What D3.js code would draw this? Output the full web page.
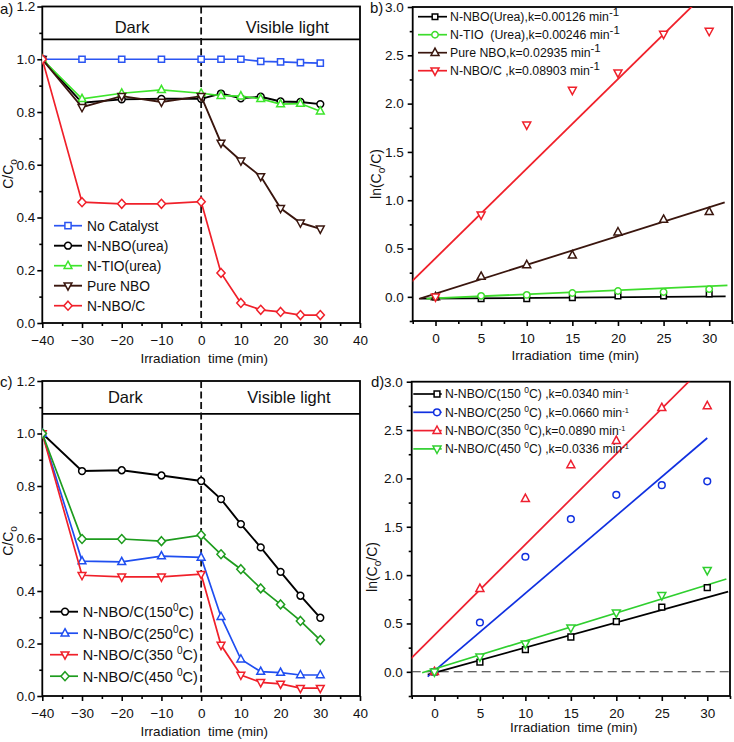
<!DOCTYPE html>
<html><head><meta charset="utf-8">
<script src="https://cdn.jsdelivr.net/npm/d3@7"></script>
<style>
body{margin:0;background:#fff;}
svg{display:block;font-family:"Liberation Sans",Arial,sans-serif;}
text{white-space:pre;}
</style></head>
<body>
<svg id="chart" width="734" height="742"></svg>
<script>
// ---------- DATA ----------
const timeAC = [-40, -30, -20, -10, 0, 5, 10, 15, 20, 25, 30];
const timeBD = [0, 5, 10, 15, 20, 25, 30];

// panel a : C/C0
const aNoCatalyst = [1.0, 1.0, 1.0, 1.0, 1.0, 1.0, 1.0, 0.992, 0.99, 0.987, 0.985];
const aNNBOurea   = [1.0, 0.835, 0.848, 0.85, 0.85, 0.87, 0.852, 0.858, 0.84, 0.838, 0.83];
const aNTIOurea   = [1.0, 0.85, 0.871, 0.884, 0.871, 0.862, 0.86, 0.85, 0.83, 0.832, 0.803];
const aPureNBO    = [1.0, 0.818, 0.86, 0.838, 0.86, 0.683, 0.615, 0.556, 0.435, 0.38, 0.357];
const aNNBOC      = [1.0, 0.458, 0.452, 0.452, 0.46, 0.19, 0.076, 0.05, 0.042, 0.03, 0.03];
const aLabels = ["No Catalyst", "N-NBO(urea)", "N-TIO(urea)", "Pure NBO", "N-NBO/C"];

// panel b : ln(C0/C)
const bNNBO  = [0, -0.02, -0.02, -0.01, 0.01, 0.01, 0.03];
const bNTIO  = [0, 0.01, 0.02, 0.04, 0.06, 0.05, 0.08];
const bPure  = [0, 0.21, 0.33, 0.43, 0.67, 0.80, 0.88];
const bNNBOC = [0, 0.85, 1.78, 2.14, 2.32, 2.72, 2.75];
const bLabels = ["N-NBO(Urea),k=0.00126 min", "N-TIO  (Urea),k=0.00246 min", "Pure NBO,k=0.02935 min", "N-NBO/C ,k=0.08903 min"];
const bFitSlope     = [0.0007, 0.0042, 0.0298, 0.0927];
const bFitIntercept = [-0.018, -0.015, 0.033, 0.40];
const bFitFrom      = [-1.65, -1.0, -1.8, -3.0];
const bFitTo        = [31.8, 32.0, 31.7, 30.0];

// panel c : C/C0
const c150 = [1.0, 0.857, 0.86, 0.84, 0.819, 0.75, 0.655, 0.566, 0.473, 0.382, 0.298];
const c250 = [1.0, 0.514, 0.511, 0.533, 0.528, 0.302, 0.14, 0.093, 0.089, 0.08, 0.08];
const c350 = [1.0, 0.46, 0.454, 0.454, 0.464, 0.194, 0.08, 0.052, 0.046, 0.03, 0.03];
const c450 = [1.0, 0.598, 0.598, 0.59, 0.613, 0.54, 0.483, 0.41, 0.349, 0.286, 0.213];
const cLabels = [["N-NBO/C(150", "C)"], ["N-NBO/C(250", "C)"], ["N-NBO/C(350 ", "C)"], ["N-NBO/C(450 ", "C)"]];

// panel d : ln(C0/C)
const d150 = [0, 0.10, 0.23, 0.36, 0.52, 0.67, 0.87];
const d250 = [0, 0.51, 1.19, 1.58, 1.83, 1.93, 1.97];
const d350 = [0, 0.86, 1.79, 2.14, 2.39, 2.73, 2.75];
const d450 = [0, 0.155, 0.29, 0.455, 0.61, 0.79, 1.05];
const dLabels = [["N-NBO/C(150 ", "C) ,k=0.0340 min"], ["N-NBO/C(250 ", "C) ,k=0.0660 min"], ["N-NBO/C(350 ", "C),k=0.0890 min"], ["N-NBO/C(450 ", "C) ,k=0.0336 min"]];
const dFitSlope     = [0.026, 0.0803, 0.0937, 0.029];
const dFitIntercept = [-0.01, 0.009, 0.38, 0.029];
const dFitFrom      = [-0.74, -0.74, -3.0, -1.35];
const dFitTo        = [32.3, 30.0, 30.0, 32.1];

const ticksACx = [-40, -30, -20, -10, 0, 10, 20, 30, 40];
const ticksACy = [0, 0.2, 0.4, 0.6, 0.8, 1.0, 1.2];
const ticksBDx = [0, 5, 10, 15, 20, 25, 30];
const ticksBDy = [0, 0.5, 1.0, 1.5, 2.0, 2.5, 3.0];
const headerLevel = 1.075;

// ---------- DRAWING ----------
const svg = d3.select("#chart");
const FONT = "\"Liberation Sans\",Arial,sans-serif";

function markerPath(type, h) {
  const p = d3.path();
  if (type === "square") { p.rect(-h, -h, 2 * h, 2 * h); }
  else if (type === "circle") { p.moveTo(h, 0); p.arc(0, 0, h, 0, 2 * Math.PI); p.closePath(); }
  else if (type === "oval") { p.moveTo(h * 0.8, 0); p.arc(0, 0, h * 0.8, 0, 2 * Math.PI); p.closePath(); }
  else if (type === "up") { p.moveTo(0, -h * 1.15); p.lineTo(h, h * 0.7); p.lineTo(-h, h * 0.7); p.closePath(); }
  else if (type === "down") { p.moveTo(0, h * 1.15); p.lineTo(h, -h * 0.7); p.lineTo(-h, -h * 0.7); p.closePath(); }
  else if (type === "diamond") { p.moveTo(0, -h * 1.15); p.lineTo(h * 1.05, 0); p.lineTo(0, h * 1.15); p.lineTo(-h * 1.05, 0); p.closePath(); }
  return p.toString();
}

function range(a, b, s) { const r = []; for (let v = a; v <= b + 1e-9; v += s) r.push(+v.toFixed(4)); return r; }

function makePanel(cfg) {
  const g = svg.append("g");
  const x = d3.scaleLinear().domain(cfg.xDomain).range([cfg.x0, cfg.x1]);
  const y = d3.scaleLinear().domain(cfg.yDomain).range([cfg.yBot, cfg.yTop]);
  const clipId = "clip" + cfg.id;
  svg.append("clipPath").attr("id", clipId).append("rect")
    .attr("x", cfg.x0).attr("y", cfg.yTop).attr("width", cfg.x1 - cfg.x0).attr("height", cfg.yBot - cfg.yTop);

  const xMajor = d3.axisBottom(x).tickValues(cfg.xTicks).tickSize(5).tickPadding(7).tickFormat(cfg.xFmt);
  const xMinor = d3.axisBottom(x).tickValues(cfg.xMinor).tickSize(3).tickFormat("");
  const yMajor = d3.axisLeft(y).tickValues(cfg.yTicks).tickSize(5).tickPadding(cfg.yPad).tickFormat(d3.format(".1f"));
  const yMinor = d3.axisLeft(y).tickValues(cfg.yMinor).tickSize(3).tickFormat("");
  [[xMinor, "x"], [xMajor, "x"], [yMinor, "y"], [yMajor, "y"]].forEach(([ax, k]) => {
    const a = g.append("g")
      .attr("transform", k === "x" ? `translate(0,${cfg.yBot})` : `translate(${cfg.x0},0)`)
      .call(ax);
    a.select(".domain").remove();
    a.selectAll("line").attr("stroke", "#000").attr("stroke-width", 1.6);
    a.selectAll("text").attr("font-family", FONT).attr("font-size", 13.5).attr("fill", "#111");
  });

  g.append("rect").attr("x", cfg.x0).attr("y", cfg.yTop)
    .attr("width", cfg.x1 - cfg.x0).attr("height", cfg.yBot - cfg.yTop)
    .attr("fill", "none").attr("stroke", "#000").attr("stroke-width", 1.8);

  const plot = g.append("g").attr("clip-path", `url(#${clipId})`);

  g.append("text").attr("x", (cfg.x0 + cfg.x1) / 2 + 3).attr("y", cfg.xLabelY)
    .attr("text-anchor", "middle").attr("font-size", 13.5).attr("fill", "#111")
    .text("Irradiation  time (min)");
  const yl = g.append("text")
    .attr("transform", `translate(${cfg.yLabelX},${cfg.yLabelY}) rotate(-90)`)
    .attr("text-anchor", "middle").attr("font-size", 14).attr("fill", "#111");
  let prevSub = false;
  cfg.yLabel.forEach(([t, sub]) => {
    if (sub) { yl.append("tspan").attr("font-size", 10).attr("dy", 3.5).text(t); }
    else { const ts = yl.append("tspan").text(t); if (prevSub) ts.attr("dy", -3.5); }
    prevSub = !!sub;
  });
  g.append("text").attr("x", cfg.tagX).attr("y", cfg.tagY).attr("font-size", 15).attr("fill", "#111").text(cfg.tag);

  return { g, plot, x, y };
}

function drawHeader(P, cfg) {
  const { plot, g, x, y } = P;
  plot.append("line").attr("x1", cfg.x0).attr("x2", cfg.x1)
    .attr("y1", y(headerLevel)).attr("y2", y(headerLevel)).attr("stroke", "#000").attr("stroke-width", 1.8);
  plot.append("line").attr("x1", x(0)).attr("x2", x(0)).attr("y1", cfg.yTop).attr("y2", cfg.yBot)
    .attr("stroke", "#111").attr("stroke-width", 1.8).attr("stroke-dasharray", "7,3.5");
  g.append("text").attr("x", x(cfg.darkX)).attr("y", cfg.headY).attr("text-anchor", "middle")
    .attr("font-size", 16.5).attr("fill", "#111").text("Dark");
  g.append("text").attr("x", x(cfg.lightX)).attr("y", cfg.headY).attr("text-anchor", "middle")
    .attr("font-size", 16.5).attr("fill", "#111").text("Visible light");
}

function drawSeries(P, xs, ys, s, withLine) {
  const { plot, x, y } = P;
  const pts = xs.map((v, i) => [v, ys[i]]);
  if (withLine) {
    plot.append("path").datum(pts)
      .attr("d", d3.line().x(d => x(d[0])).y(d => y(d[1])))
      .attr("fill", "none").attr("stroke", s.color).attr("stroke-width", s.lw || 1.7);
  }
  plot.selectAll(null).data(pts).enter().append("path")
    .attr("transform", d => `translate(${x(d[0])},${y(d[1])})`)
    .attr("d", markerPath(s.marker, s.size))
    .attr("fill", "#fff").attr("stroke", s.color).attr("stroke-width", s.mw || 1.5);
}

function drawFit(P, slope, icpt, from, to, color, lw) {
  const { plot, x, y } = P;
  const pts = [[from, icpt + slope * from], [to, icpt + slope * to]];
  plot.append("path").datum(pts)
    .attr("d", d3.line().x(d => x(d[0])).y(d => y(d[1])))
    .attr("fill", "none").attr("stroke", color).attr("stroke-width", lw || 1.7);
}

function legendRow(g, cfg, i, s, parts) {
  const cy = cfg.ly0 + i * cfg.lstep;
  g.append("line").attr("x1", cfg.lx0).attr("x2", cfg.lx1).attr("y1", cy).attr("y2", cy)
    .attr("stroke", s.color).attr("stroke-width", s.lw || 1.7);
  g.append("path").attr("transform", `translate(${cfg.lmx},${cy})`).attr("d", markerPath(s.marker, s.size))
    .attr("fill", "#fff").attr("stroke", s.color).attr("stroke-width", s.mw || 1.5);
  const t = g.append("text").attr("x", cfg.ltx).attr("y", cy + cfg.lbase)
    .attr("font-size", cfg.lfont).attr("fill", "#111");
  parts.forEach(p => {
    const ts = t.append("tspan").text(p.t);
    if (p.sup) ts.attr("font-size", p.fs).attr("dy", -p.up);
    if (p.back) ts.attr("dy", p.back);
  });
}

// ---------- PANEL A ----------
const cfgA = { id: "a", x0: 42.3, x1: 360, yTop: 6.5, yBot: 323, xDomain: [-40, 40], yDomain: [0, 1.2],
  xTicks: ticksACx, xMinor: range(-35, 35, 10), yTicks: ticksACy, yMinor: range(0.1, 1.1, 0.2), yPad: 2,
  xFmt: d3.format("d"), xLabelY: 362.5, yLabelX: 13, yLabelY: 174, yLabel: [["C/C"], ["o", true]],
  tag: "a)", tagX: 0, tagY: 13.5, headY: 32.7, darkX: -17.4, lightX: 21.7,
  ly0: 225.7, lstep: 20, lx0: 54, lx1: 82, lmx: 68, ltx: 87, lbase: 5, lfont: 13.8 };
const PA = makePanel(cfgA);
drawHeader(PA, cfgA);
const aStyles = [
  { color: "#2b55f2", marker: "square", size: 3.1 },
  { color: "#000000", marker: "circle", size: 3.4, lw: 1.9 },
  { color: "#3ee52c", marker: "up", size: 3.9 },
  { color: "#3a160e", marker: "down", size: 3.9, lw: 1.9 },
  { color: "#f0202a", marker: "diamond", size: 3.9 }
];
[aNoCatalyst, aNNBOurea, aNTIOurea, aPureNBO, aNNBOC].forEach((ys, i) => drawSeries(PA, timeAC, ys, aStyles[i], true));
aLabels.forEach((l, i) => legendRow(PA.g, cfgA, i, aStyles[i], [{ t: l }]));

// ---------- PANEL B ----------
const cfgB = { id: "b", x0: 412.7, x1: 732, yTop: 7, yBot: 321, xDomain: [-2.5, 32.5], yDomain: [-0.25, 3.0],
  xTicks: ticksBDx, xMinor: range(-2.5, 32.5, 5), yTicks: ticksBDy, yMinor: range(-0.25, 2.75, 0.5), yPad: 4,
  xFmt: d3.format("d"), xLabelY: 360, yLabelX: 381, yLabelY: 174, yLabel: [["ln(C"], ["o", true], ["/C)"]],
  tag: "b)", tagX: 370, tagY: 13,
  ly0: 16.7, lstep: 18, lx0: 418, lx1: 447, lmx: 435, ltx: 450, lbase: 4.3, lfont: 12.3 };
const PB = makePanel(cfgB);
const bStyles = [
  { color: "#000000", marker: "square", size: 2.8 },
  { color: "#3ddc2c", marker: "circle", size: 3.2 },
  { color: "#3a160e", marker: "up", size: 4 },
  { color: "#f0202a", marker: "down", size: 4 }
];
bStyles.forEach((s, i) => drawFit(PB, bFitSlope[i], bFitIntercept[i], bFitFrom[i], bFitTo[i], s.color, 1.8));
[bNNBO, bNTIO, bPure, bNNBOC].forEach((ys, i) => drawSeries(PB, timeBD, ys, bStyles[i], false));
bLabels.forEach((l, i) => legendRow(PB.g, cfgB, i, bStyles[i], [{ t: l }, { t: "-1", sup: true, fs: 11.5, up: 5 }]));

// ---------- PANEL C ----------
const cfgC = { id: "c", x0: 42.3, x1: 360, yTop: 381, yBot: 696, xDomain: [-40, 40], yDomain: [0, 1.2],
  xTicks: ticksACx, xMinor: range(-35, 35, 10), yTicks: ticksACy, yMinor: range(0.1, 1.1, 0.2), yPad: 2,
  xFmt: d3.format("d"), xLabelY: 735.5, yLabelX: 13, yLabelY: 541, yLabel: [["C/C"], ["o", true]],
  tag: "c)", tagX: 0, tagY: 387, headY: 402.7, darkX: -19.1, lightX: 22.1,
  ly0: 611.7, lstep: 21.5, lx0: 50, lx1: 78, lmx: 65, ltx: 82.7, lbase: 5.3, lfont: 14.5 };
const PC = makePanel(cfgC);
drawHeader(PC, cfgC);
const cStyles = [
  { color: "#000000", marker: "circle", size: 3.4, lw: 1.9 },
  { color: "#1f4ef0", marker: "up", size: 3.9 },
  { color: "#f0202a", marker: "down", size: 3.9 },
  { color: "#1e9c1e", marker: "diamond", size: 3.9 }
];
[c150, c250, c350, c450].forEach((ys, i) => drawSeries(PC, timeAC, ys, cStyles[i], true));
cLabels.forEach((l, i) => legendRow(PC.g, cfgC, i, cStyles[i],
  [{ t: l[0] }, { t: "0", sup: true, fs: 10, up: 6 }, { t: l[1], back: 6 }]));

// ---------- PANEL D ----------
const cfgD = { id: "d", x0: 411.7, x1: 730, yTop: 381.7, yBot: 696, xDomain: [-2.5, 32.5], yDomain: [-0.25, 3.0],
  xTicks: ticksBDx, xMinor: range(-2.5, 32.5, 5), yTicks: ticksBDy, yMinor: range(-0.25, 2.75, 0.5), yPad: 4,
  xFmt: d3.format("d"), xLabelY: 731.5, yLabelX: 377, yLabelY: 567, yLabel: [["ln(C"], ["o", true], ["/C)"]],
  tag: "d)", tagX: 371, tagY: 387,
  ly0: 394, lstep: 18.3, lx0: 413.3, lx1: 441.7, lmx: 437, ltx: 445, lbase: 4.3, lfont: 12.2 };
const PD = makePanel(cfgD);
PD.plot.append("line").attr("x1", cfgD.x0).attr("x2", cfgD.x1).attr("y1", PD.y(0)).attr("y2", PD.y(0))
  .attr("stroke", "#333").attr("stroke-width", 1.1).attr("stroke-dasharray", "9,5");
const dStyles = [
  { color: "#000000", marker: "square", size: 2.9 },
  { color: "#1030e0", marker: "oval", size: 4.2 },
  { color: "#ee2030", marker: "up", size: 4 },
  { color: "#2fcf2f", marker: "down", size: 4 }
];
dStyles.forEach((s, i) => drawFit(PD, dFitSlope[i], dFitIntercept[i], dFitFrom[i], dFitTo[i], s.color, 1.7));
[d150, d250, d350, d450].forEach((ys, i) => drawSeries(PD, timeBD, ys, dStyles[i], false));
dLabels.forEach((l, i) => legendRow(PD.g, cfgD, i, dStyles[i],
  [{ t: l[0] }, { t: "0", sup: true, fs: 8.5, up: 5 }, { t: l[1], back: 5 }, { t: "-1", sup: true, fs: 7.5, up: 4 }]));
</script>
</body></html>
